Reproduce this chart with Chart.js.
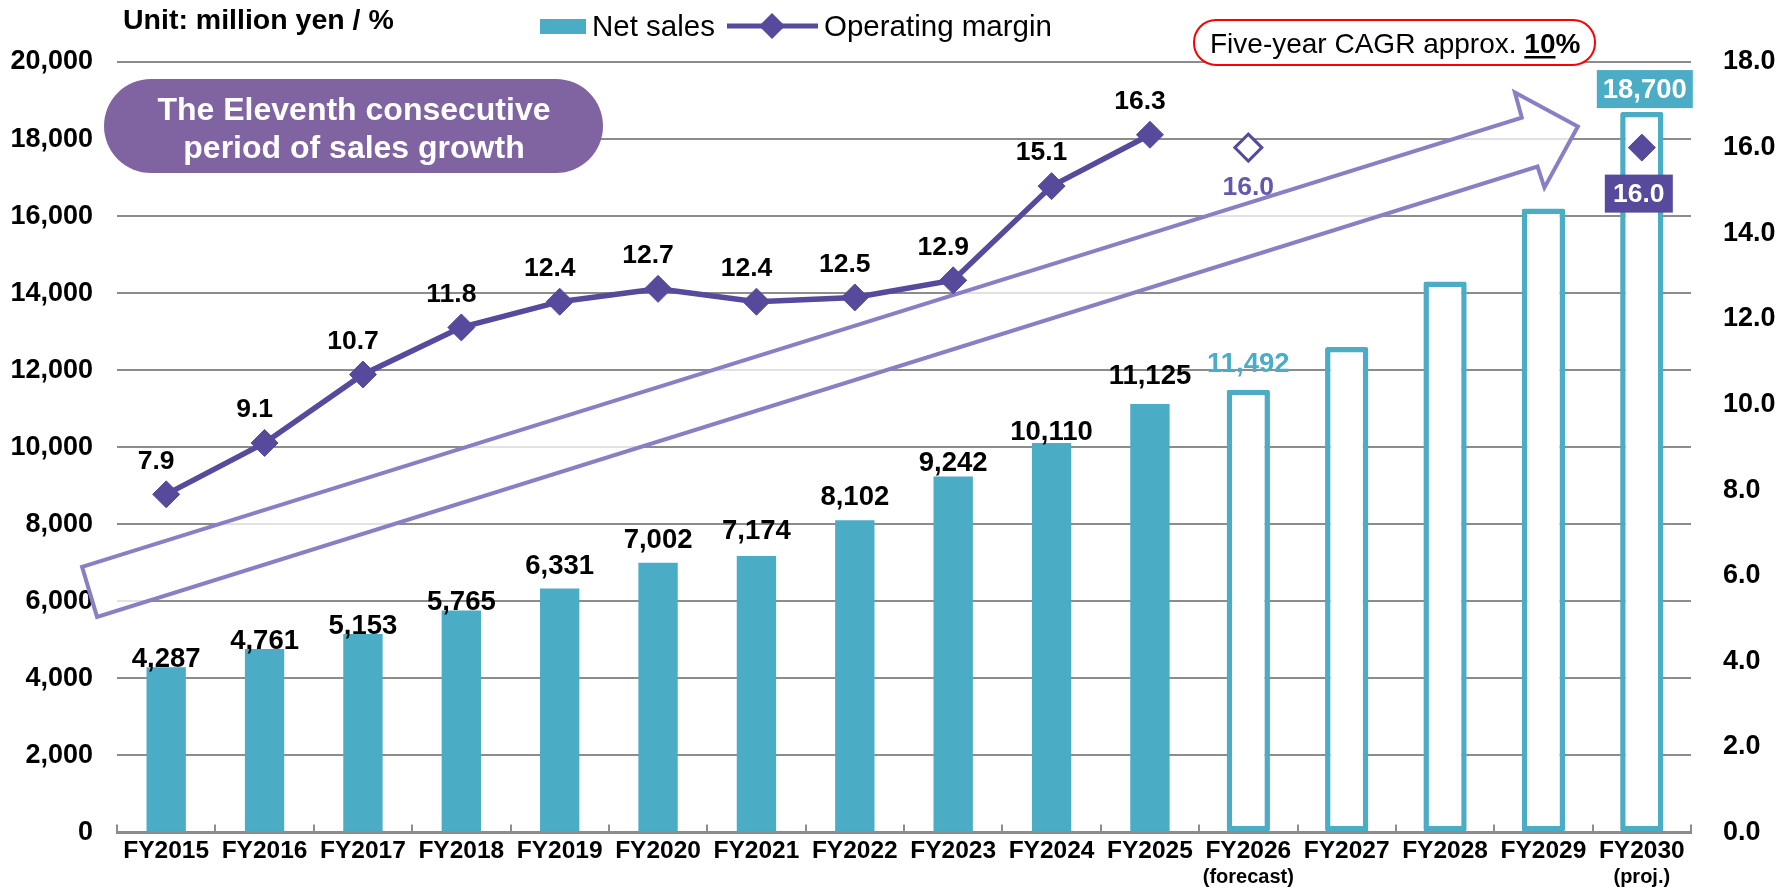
<!DOCTYPE html>
<html><head><meta charset="utf-8">
<script src="https://cdn.jsdelivr.net/npm/chart.js@4.4.1/dist/chart.umd.min.js"></script>
<style>html,body{margin:0;padding:0;background:#fff;overflow:hidden}canvas{display:block}</style>
</head><body>
<canvas id="c" width="1781" height="888"></canvas>
<script>
// ---- data ----
const categories = ['FY2015','FY2016','FY2017','FY2018','FY2019','FY2020','FY2021','FY2022','FY2023','FY2024','FY2025','FY2026','FY2027','FY2028','FY2029','FY2030'];
const categoryNotes = ['','','','','','','','','','','','(forecast)','','','','(proj.)'];
const netSales = [4287,4761,5153,5765,6331,7002,7174,8102,9242,10110,11125,null,null,null,null,null];
const netSalesPlan = [null,null,null,null,null,null,null,null,null,null,null,11492,12600,14300,16200,18700];
const opMargin = [7.9,9.1,10.7,11.8,12.4,12.7,12.4,12.5,12.9,15.1,16.3,null,null,null,null,null];
const opMarginPlan = [null,null,null,null,null,null,null,null,null,null,null,16.0,null,null,null,16.0];
const salesAxis = {min:0, max:20000, step:2000};
const marginAxis = {min:0, max:18, step:2};

// ---- styles ----
const TEAL = '#4bacc6', PURPLE = '#574a9c', PURPLE_LIGHT = '#6656ad', PILL = '#8064a2', ARROW = '#8a7ec4', GRID = '#8c8c8c';
const FONT = '"Liberation Sans", Arial, Helvetica, sans-serif';
// label lift above bar top (px) for actual bars
const salesLabelLift = [0,0,0,0,15,15,17,15,5,3,20];
// decorative arrow, in (category index, sales value) space
const arrowShape = [[-0.855,6896],[13.78,18558],[13.71,19208],[14.35,18325],[14.01,16740],[13.94,17286],[-0.703,5597]];

function rr(ctx,x,y,w,h,r){ctx.beginPath();ctx.moveTo(x+r,y);ctx.arcTo(x+w,y,x+w,y+h,r);ctx.arcTo(x+w,y+h,x,y+h,r);ctx.arcTo(x,y+h,x,y,r);ctx.arcTo(x,y,x+w,y,r);ctx.closePath();}
function fmt(v){return v.toLocaleString('en-US');}
function diamond(ctx,x,y,r){ctx.beginPath();ctx.moveTo(x-r,y);ctx.lineTo(x,y-r);ctx.lineTo(x+r,y);ctx.lineTo(x,y+r);ctx.closePath();}

const decor = {
  id:'decor',
  beforeDatasetsDraw(chart){
    const ctx = chart.ctx, xs = chart.scales.x, ys = chart.scales.y;
    ctx.save();
    ctx.beginPath();
    arrowShape.forEach((p,i)=>{const px=xs.getPixelForValue(p[0]), py=ys.getPixelForValue(p[1]); if(i===0) ctx.moveTo(px,py); else ctx.lineTo(px,py);});
    ctx.closePath();
    ctx.fillStyle='rgba(255,255,255,0.75)';
    ctx.fill();
    ctx.lineWidth=4; ctx.strokeStyle=ARROW; ctx.lineJoin='miter';
    ctx.stroke();
    ctx.restore();
  },
  afterDatasetsDraw(chart){
    const ctx = chart.ctx;
    ctx.save();
    // actual sales labels
    const m0 = chart.getDatasetMeta(0);
    ctx.font = 'bold 27.5px '+FONT; ctx.textAlign='center'; ctx.textBaseline='alphabetic'; ctx.fillStyle='#000';
    m0.data.forEach((el,i)=>{ if(netSales[i]==null) return; ctx.fillText(fmt(netSales[i]), el.x, el.y - salesLabelLift[i]); });
    // plan sales labels
    const m1 = chart.getDatasetMeta(1);
    m1.data.forEach((el,i)=>{
      if(netSalesPlan[i]==null) return;
      if(i===11){ ctx.fillStyle=TEAL; ctx.font='bold 27.5px '+FONT; ctx.textBaseline='alphabetic'; ctx.fillText(fmt(netSalesPlan[i]), el.x, el.y-18); }
      if(i===15){
        const cx=el.x+3, cy=el.y-23;
        ctx.fillStyle=TEAL; ctx.fillRect(cx-48,cy-19,96,38);
        ctx.fillStyle='#fff'; ctx.font='bold 27.5px '+FONT; ctx.textBaseline='middle'; ctx.fillText(fmt(netSalesPlan[i]), cx, cy+1);
      }
    });
    // margin labels
    const m2 = chart.getDatasetMeta(2);
    ctx.fillStyle='#000'; ctx.font='bold 26.5px '+FONT; ctx.textBaseline='middle';
    m2.data.forEach((el,i)=>{ if(opMargin[i]==null) return; ctx.fillText(opMargin[i].toFixed(1), el.x-10, el.y-33); });
    const m3 = chart.getDatasetMeta(3);
    m3.data.forEach((el,i)=>{
      if(opMarginPlan[i]==null) return;
      if(i===11){ ctx.fillStyle=PURPLE_LIGHT; ctx.font='bold 26.5px '+FONT; ctx.fillText(opMarginPlan[i].toFixed(1), el.x, el.y+40); }
      if(i===15){
        const cx=el.x-3, cy=el.y+46;
        ctx.fillStyle=PURPLE; ctx.fillRect(cx-34,cy-19,68,38);
        ctx.fillStyle='#fff'; ctx.font='bold 26.5px '+FONT; ctx.fillText(opMarginPlan[i].toFixed(1), cx, cy+1);
      }
    });
    ctx.restore();
  },
  afterDraw(chart){
    const ctx = chart.ctx, xs = chart.scales.x;
    ctx.save();
    // category sub-notes
    ctx.font='bold 20px '+FONT; ctx.fillStyle='#000'; ctx.textAlign='center'; ctx.textBaseline='middle';
    categoryNotes.forEach((n,i)=>{ if(n) ctx.fillText(n, xs.getPixelForValue(i), 877); });
    // unit
    ctx.textAlign='left'; ctx.textBaseline='alphabetic';
    ctx.font='bold 28.5px '+FONT; ctx.fillText('Unit: million yen / %', 123, 29);
    // legend
    ctx.fillStyle=TEAL; ctx.fillRect(540,19,46,15);
    ctx.fillStyle='#000'; ctx.font='29.5px '+FONT; ctx.fillText('Net sales', 592, 36);
    ctx.strokeStyle=PURPLE; ctx.lineWidth=5; ctx.beginPath(); ctx.moveTo(727,26); ctx.lineTo(818,26); ctx.stroke();
    ctx.fillStyle=PURPLE; diamond(ctx,772,26,13); ctx.fill();
    ctx.fillStyle='#000'; ctx.fillText('Operating margin', 824, 36);
    // pill
    ctx.fillStyle=PILL; rr(ctx,104,79,499,94,47); ctx.fill();
    ctx.fillStyle='#fff'; ctx.font='bold 32px '+FONT; ctx.textAlign='center'; ctx.textBaseline='middle';
    ctx.fillText('The Eleventh consecutive', 354, 111);
    ctx.fillText('period of sales growth', 354, 149);
    // CAGR box
    rr(ctx,1194,20,401,45,22); ctx.fillStyle='#fff'; ctx.fill(); ctx.strokeStyle='#ff0000'; ctx.lineWidth=2; ctx.stroke();
    ctx.textAlign='left'; ctx.textBaseline='alphabetic'; ctx.fillStyle='#000';
    ctx.font='28px '+FONT; const t1='Five-year CAGR approx. ';
    ctx.fillText(t1, 1210, 53); let x = 1210 + ctx.measureText(t1).width;
    ctx.font='bold 28px '+FONT; const w10 = ctx.measureText('10').width;
    ctx.fillText('10', x, 53); ctx.fillRect(x, 56, w10, 2.5);
    ctx.fillText('%', x + w10, 53);
    ctx.restore();
  }
};

const tickFont = {family:FONT, size:27, weight:'bold'};
new Chart(document.getElementById('c'), {
  data:{
    labels: categories,
    datasets:[
      {type:'bar', label:'Net sales', data:netSales, yAxisID:'y', backgroundColor:TEAL, barPercentage:0.4, categoryPercentage:1, grouped:false, order:2},
      {type:'bar', label:'Net sales (plan)', data:netSalesPlan, yAxisID:'y', backgroundColor:'#fff', borderColor:TEAL, borderWidth:5.5, borderSkipped:false, borderRadius:2, barPercentage:0.44, categoryPercentage:1, grouped:false, order:2},
      {type:'line', label:'Operating margin', data:opMargin, yAxisID:'y1', borderColor:PURPLE, borderWidth:5.5, tension:0, pointStyle:'rectRot', pointRadius:13.5, pointBackgroundColor:PURPLE, pointBorderColor:PURPLE, pointBorderWidth:1, order:0},
      {type:'line', label:'Operating margin (plan)', data:opMarginPlan, yAxisID:'y1', showLine:false, pointStyle:'rectRot', pointRadius:13.5,
        pointBackgroundColor:(c)=>c.dataIndex===11?'#fff':PURPLE, pointBorderColor:PURPLE, pointBorderWidth:(c)=>c.dataIndex===11?3:1, order:0}
    ]
  },
  options:{
    responsive:false, devicePixelRatio:1, animation:false,
    layout:{padding:{top:62,left:0,right:0,bottom:0}},
    plugins:{legend:{display:false}, tooltip:{enabled:false}, title:{display:false}},
    scales:{
      x:{offset:true, grid:{display:true, offset:true, drawOnChartArea:false, drawTicks:true, tickLength:-8, color:GRID, lineWidth:2},
         border:{display:true, color:GRID, width:3},
         ticks:{color:'#000', font:{family:FONT,size:24.5,weight:'bold'}, padding:12, maxRotation:0, autoSkip:false},
         afterFit(s){s.height=55.5;}},
      y:{position:'left', min:salesAxis.min, max:salesAxis.max,
         ticks:{stepSize:salesAxis.step, color:'#000', font:tickFont, padding:24, callback:(v)=>fmt(v)},
         grid:{color:GRID, lineWidth:2, drawTicks:false}, border:{display:false},
         afterFit(s){s.width=117;}},
      y1:{position:'right', min:marginAxis.min, max:marginAxis.max,
         ticks:{stepSize:marginAxis.step, color:'#000', font:tickFont, padding:24, callback:(v)=>v.toFixed(1)},
         grid:{display:false, drawOnChartArea:false}, border:{display:false},
         afterFit(s){s.width=90;}}
    }
  },
  plugins:[decor]
});
</script>
</body></html>
